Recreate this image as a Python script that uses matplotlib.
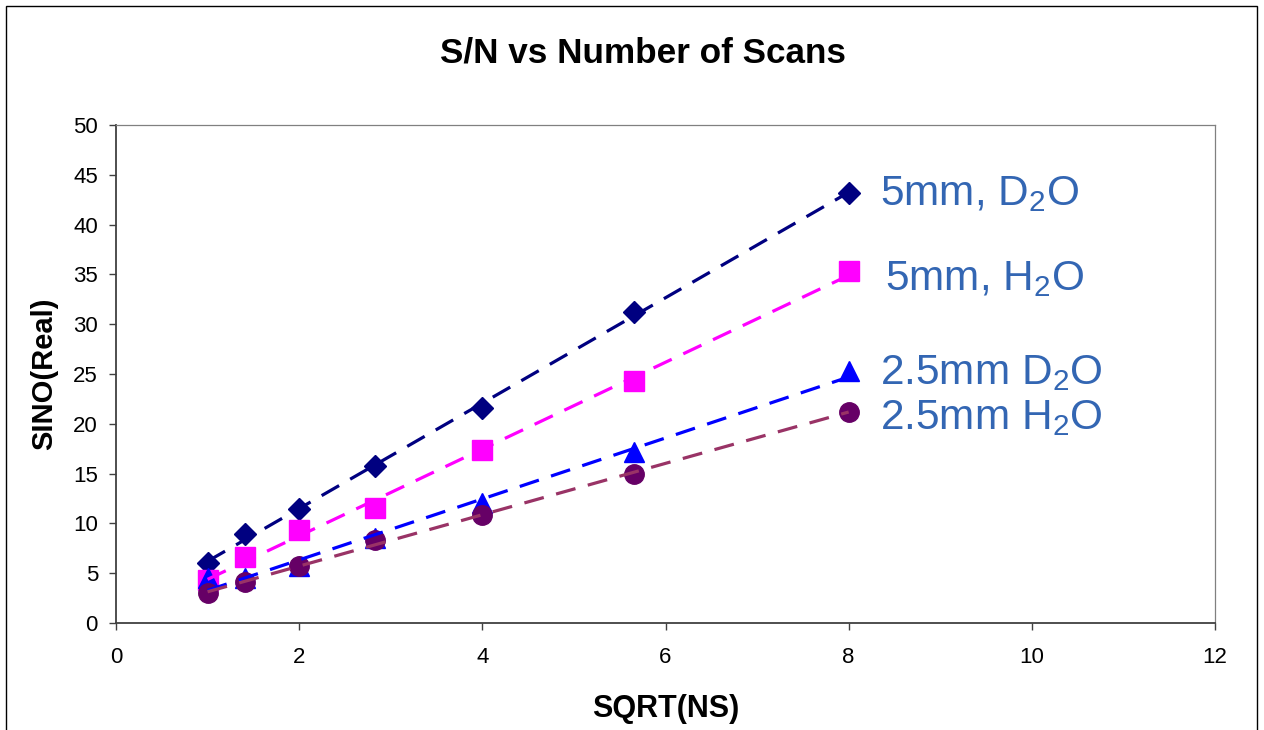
import numpy as np
import matplotlib
matplotlib.use("Agg")
import matplotlib.pyplot as plt
from matplotlib.patches import Rectangle

plt.rcParams['font.family'] = ['Liberation Sans', 'DejaVu Sans']
plt.rcParams['mathtext.fontset'] = 'custom'
plt.rcParams['mathtext.rm'] = 'Liberation Sans'
plt.rcParams['mathtext.it'] = 'Liberation Sans:italic'
plt.rcParams['mathtext.bf'] = 'Liberation Sans:bold'

# Data
sqrt_ns = [1.0, 1.414, 2.0, 2.828, 4.0, 5.657, 8.0]
sn_5mm_d2o = [6.0, 8.9, 11.4, 15.8, 21.6, 31.2, 43.2]
sn_5mm_h2o = [4.3, 6.6, 9.3, 11.5, 17.4, 24.3, 35.3]
sn_25mm_d2o = [4.5, 4.5, 5.7, 8.5, 12.0, 17.2, 25.3]
sn_25mm_h2o = [3.0, 4.1, 5.7, 8.3, 10.8, 15.0, 21.2]
labels = ['5mm, D$_2$O', '5mm, H$_2$O', '2.5mm D$_2$O', '2.5mm H$_2$O']
xticks = [0, 2, 4, 6, 8, 10, 12]
yticks = [0, 5, 10, 15, 20, 25, 30, 35, 40, 45, 50]

series = [sn_5mm_d2o, sn_5mm_h2o, sn_25mm_d2o, sn_25mm_h2o]
marker_colors = ['#000080', '#FF00FF', '#0000FF', '#660066']
line_colors = ['#000080', '#FF00FF', '#0000FF', '#993366']
markers = ['D', 's', '^', 'o']
msizes = [11.5, 14, 15, 14]
label_pos = [(8.34, 42.0), (8.40, 33.4), (8.34, 24.0), (8.34, 19.5)]

fig = plt.figure(figsize=(12.64, 7.30), dpi=100)
ax = fig.add_axes([116/1264, 1-623/730, (1215-116)/1264, (623-125)/730])

x = np.array(sqrt_ns)
for ys, mc, lc, mk, ms in zip(series, marker_colors, line_colors, markers, msizes):
    ax.plot(x, ys, linestyle='none', marker=mk, markersize=ms, color=mc,
            markeredgecolor=mc, zorder=3)
for ys, lc in zip(series, line_colors):
    k, b = np.polyfit(x, ys, 1)
    xx = np.array([x.min(), x.max()])
    ax.plot(xx, k*xx + b, color=lc, lw=2.3, linestyle=(0, (6.3, 4.0)), zorder=4)

for lab, (lx, ly) in zip(labels, label_pos):
    ax.text(lx, ly, lab, fontsize=30.5, color='#3366B3', ha='left', va='baseline')

ax.set_xlim(0, 12)
ax.set_ylim(0, 50)
ax.set_xticks(xticks)
ax.set_yticks(yticks)
ax.tick_params(axis='both', direction='out', length=5, width=1, colors='#404040',
               labelsize=16, labelcolor='black')
ax.tick_params(axis='x', pad=12)
ax.tick_params(axis='y', pad=8)
for s in ['left', 'bottom']:
    ax.spines[s].set_color('#404040')
    ax.spines[s].set_linewidth(1.3)
for s in ['top', 'right']:
    ax.spines[s].set_color('#808080')
    ax.spines[s].set_linewidth(0.9)

ax.set_xlabel('SQRT(NS)', fontsize=22, fontweight='bold', labelpad=19)
ax.set_ylabel('SINO(Real)', fontsize=21, fontweight='bold', labelpad=11)
fig.text(643/1264, 1-53/730, 'S/N vs Number of Scans', fontsize=25.3, fontweight='bold',
         ha='center', va='center')

fig.patches.append(Rectangle((6/1264, -0.05), (1257-6)/1264, 1.05-6/730,
                             transform=fig.transFigure, fill=False,
                             edgecolor='black', lw=1.0))

fig.savefig('out.png', dpi=100)
